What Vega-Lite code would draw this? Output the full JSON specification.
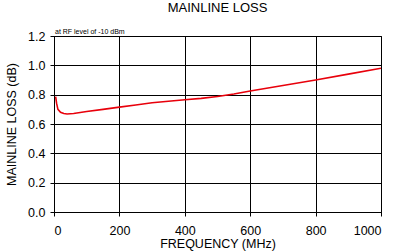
{
  "$schema": "https://vega.github.io/schema/vega-lite/v6.json",
  "width": 327,
  "height": 176,
  "autosize": "none",
  "padding": {"left": 54, "top": 36, "right": 15, "bottom": 40},
  "background": "white",
  "config": {
    "font": "Liberation Sans",
    "view": {"stroke": "black", "strokeWidth": 1},
    "axis": {
      "gridColor": "black", "gridOpacity": 1, "gridWidth": 1,
      "domainColor": "black", "tickColor": "black", "tickSize": 4,
      "labelColor": "black", "titleColor": "black", "labelOverlap": false,
      "labelFontSize": 12.5, "titleFontSize": 12.5, "titleFontWeight": "normal"
    }
  },
  "title": {"text": "MAINLINE LOSS", "fontSize": 13, "fontWeight": "normal", "offset": 13, "color": "black"},
  "data": {"values": [
    {"f": 5, "loss": 0.786},
    {"f": 8, "loss": 0.74},
    {"f": 12, "loss": 0.70},
    {"f": 20, "loss": 0.68},
    {"f": 30, "loss": 0.671},
    {"f": 40, "loss": 0.668},
    {"f": 60, "loss": 0.672},
    {"f": 100, "loss": 0.685},
    {"f": 150, "loss": 0.70},
    {"f": 200, "loss": 0.715},
    {"f": 250, "loss": 0.73},
    {"f": 300, "loss": 0.745},
    {"f": 350, "loss": 0.755},
    {"f": 400, "loss": 0.765},
    {"f": 450, "loss": 0.775},
    {"f": 500, "loss": 0.788},
    {"f": 550, "loss": 0.805},
    {"f": 600, "loss": 0.825},
    {"f": 700, "loss": 0.862},
    {"f": 800, "loss": 0.90},
    {"f": 900, "loss": 0.94},
    {"f": 1000, "loss": 0.98}
  ]},
  "layer": [
    {
      "mark": {"type": "line", "color": "#e8000b", "strokeWidth": 1.6, "clip": true},
      "encoding": {
        "x": {"field": "f", "type": "quantitative", "scale": {"domain": [0, 1000], "nice": false},
              "axis": {"values": [0, 200, 400, 600, 800, 1000], "format": "d", "title": "FREQUENCY (MHz)", "labelPadding": 8, "titlePadding": 1}},
        "y": {"field": "loss", "type": "quantitative", "scale": {"domain": [0, 1.2], "nice": false},
              "axis": {"values": [0, 0.2, 0.4, 0.6, 0.8, 1.0, 1.2], "format": ".1f", "title": "MAINLINE LOSS (dB)", "labelPadding": 5, "titlePadding": 9}}
      }
    },
    {
      "data": {"values": [{"label": "at RF level of -10 dBm"}]},
      "mark": {"type": "text", "align": "left", "baseline": "bottom", "fontSize": 7, "dx": 1, "dy": -1, "color": "black"},
      "encoding": {
        "x": {"datum": 0, "type": "quantitative",
              "axis": {"values": [0, 200, 400, 600, 800, 1000], "format": "d", "title": "FREQUENCY (MHz)", "labelPadding": 8, "titlePadding": 1}},
        "y": {"datum": 1.2, "type": "quantitative",
              "axis": {"values": [0, 0.2, 0.4, 0.6, 0.8, 1.0, 1.2], "format": ".1f", "title": "MAINLINE LOSS (dB)", "labelPadding": 5, "titlePadding": 9}},
        "text": {"field": "label"}
      }
    }
  ]
}
